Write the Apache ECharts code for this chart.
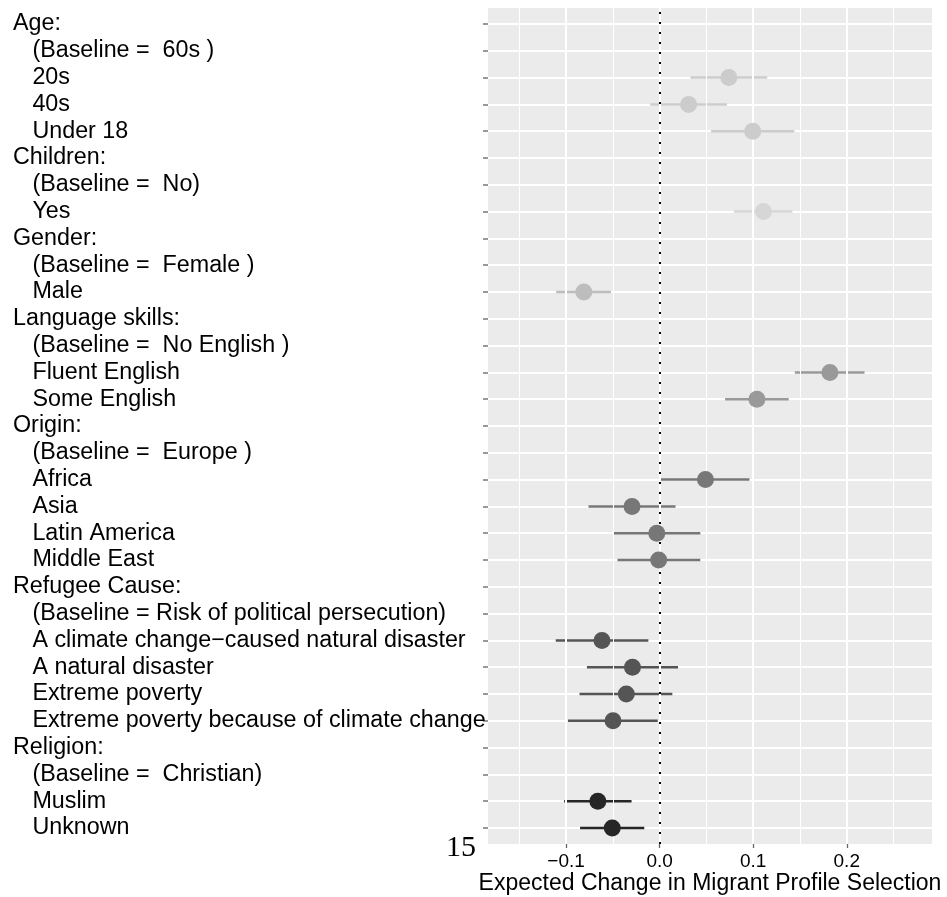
<!DOCTYPE html>
<html><head><meta charset="utf-8">
<script src="https://cdn.jsdelivr.net/npm/echarts@6/dist/echarts.min.js"></script>
<style>html,body{margin:0;padding:0;background:#fff}#c{width:947px;height:897px}</style>
</head><body><div id="c"></div>
<script>
const labels = [
  "Age:", "   (Baseline =  60s )", "   20s", "   40s", "   Under 18",
  "Children:", "   (Baseline =  No)", "   Yes",
  "Gender:", "   (Baseline =  Female )", "   Male",
  "Language skills:", "   (Baseline =  No English )", "   Fluent English", "   Some English",
  "Origin:", "   (Baseline =  Europe )", "   Africa", "   Asia", "   Latin America", "   Middle East",
  "Refugee Cause:", "   (Baseline = Risk of political persecution)", "   A climate change\u2212caused natural disaster",
  "   A natural disaster", "   Extreme poverty", "   Extreme poverty because of climate change",
  "Religion:", "   (Baseline =  Christian)", "   Muslim", "   Unknown"
];
const groupOfRow = [0,0,0,0,0, 1,1,1, 2,2,2, 3,3,3,3, 4,4,4,4,4,4, 5,5,5,5,5,5, 6,6,6,6];
const groupColors = ["#cccccc", "#d6d6d6", "#bdbdbd", "#999999", "#777777", "#555555", "#262626"];
const estimates = [null,null,0.074,0.031,0.0995, null,null,0.111, null,null,-0.081, null,null,0.182,0.104,
  null,null,0.049,-0.0295,-0.003,-0.001, null,null,-0.0616,-0.029,-0.0356,-0.0498, null,null,-0.066,-0.0506];
const lower = [null,null,0.033,-0.010,0.055, null,null,0.0795, null,null,-0.1105, null,null,0.1445,0.070,
  null,null,0.0007,-0.076,-0.049,-0.045, null,null,-0.111,-0.0777,-0.0856,-0.098, null,null,-0.102,-0.085];
const upper = [null,null,0.115,0.072,0.144, null,null,0.142, null,null,-0.052, null,null,0.219,0.138,
  null,null,0.096,0.017,0.0435,0.0435, null,null,-0.012,0.0197,0.0136,-0.002, null,null,-0.030,-0.0164];
const majorTicks = [-0.1, 0.0, 0.1, 0.2];
const minorTicks = [-0.15, -0.05, 0.05, 0.15, 0.25];
const xMin = -0.1834, xMax = 0.2911;
const xTitle = "Expected Change in Migrant Profile Selection";

const pointData = [], barData = [];
estimates.forEach((v, i) => {
  if (v === null) return;
  const col = groupColors[groupOfRow[i]];
  pointData.push({ value: [v, i], itemStyle: { color: col, opacity: 1 } });
  barData.push({ value: [lower[i], upper[i], i], itemStyle: { color: col } });
});

const gridLines = majorTicks.map(v => ({ xAxis: v, lineStyle: { color: '#ffffff', width: 2, type: 'solid' } }))
  .concat(minorTicks.map(v => ({ xAxis: v, lineStyle: { color: '#ffffff', width: 1, type: 'solid' } })));

const chart = echarts.init(document.getElementById('c'), null, { renderer: 'canvas' });
const font = "'Liberation Sans', Arial, Helvetica, sans-serif";
chart.setOption({
  animation: false,
  textStyle: { fontFamily: font },
  grid: [
    { left: 488, right: 15, top: 24, bottom: 69, show: false, containLabel: false, outerBoundsMode: 'none' },
    { left: 488, right: 15, top: 8, bottom: 53, show: true, backgroundColor: '#ebebeb', borderWidth: 0,
      containLabel: false, outerBoundsMode: 'none' }
  ],
  xAxis: [
    { gridIndex: 0, type: 'value', min: xMin, max: xMax, show: false, splitLine: { show: false },
      axisLine: { onZero: false } },
    { gridIndex: 1, type: 'value', min: xMin, max: xMax,
      axisLine: { show: false, onZero: false },
      axisTick: { show: true, customValues: majorTicks, length: 4, lineStyle: { color: '#666', width: 1.3 } },
      axisLabel: { customValues: majorTicks, margin: 8, fontSize: 19, color: '#000', fontFamily: font,
        formatter: v => v.toFixed(1).replace('-', '\u2212') },
      splitLine: { show: false },
      name: xTitle, nameLocation: 'middle', nameGap: 28, nameMoveOverlap: false,
      nameTextStyle: { fontSize: 23, color: '#000', fontFamily: font } }
  ],
  yAxis: [
    { gridIndex: 0, type: 'category', data: labels, inverse: true, boundaryGap: false, position: 'left',
      axisLine: { show: false, onZero: false },
      axisTick: { show: true, interval: 0, length: 5, lineStyle: { color: '#777', width: 1.5 } },
      axisLabel: { interval: 0, align: 'left', margin: 475, fontSize: 23.3, color: '#000', fontFamily: font },
      splitLine: { show: true, interval: 0, lineStyle: { color: '#ffffff', width: 2 } } },
    { gridIndex: 1, type: 'value', min: 0, max: 1, show: false, splitLine: { show: false },
      axisLine: { onZero: false } }
  ],
  graphic: [
    { type: 'text', left: 446, top: 833,
      style: { text: '15', font: "30px 'Liberation Serif', 'Times New Roman', serif", fill: '#000' } }
  ],
  series: [
    { type: 'scatter', xAxisIndex: 1, yAxisIndex: 1, data: [], z: 2, silent: true,
      markLine: { symbol: 'none', silent: true, label: { show: false }, animation: false, data: gridLines } },
    { type: 'scatter', xAxisIndex: 1, yAxisIndex: 1, data: [], z: 3, silent: true,
      markLine: { symbol: 'none', silent: true, label: { show: false }, animation: false,
        lineStyle: { color: '#000', width: 2, type: [2, 8] }, data: [{ xAxis: 0 }] } },
    { type: 'custom', xAxisIndex: 0, yAxisIndex: 0, z: 4, data: barData,
      renderItem: (params, api) => {
        const a = api.coord([api.value(0), api.value(2)]);
        const b = api.coord([api.value(1), api.value(2)]);
        return { type: 'line', shape: { x1: a[0], y1: a[1], x2: b[0], y2: b[1] },
          style: { stroke: api.visual('color'), lineWidth: 2.5 } };
      },
      encode: { x: [0, 1], y: 2 } },
    { type: 'scatter', xAxisIndex: 0, yAxisIndex: 0, z: 5, symbolSize: 17, data: pointData,
      itemStyle: { opacity: 1 } }
  ]
});
</script></body></html>
